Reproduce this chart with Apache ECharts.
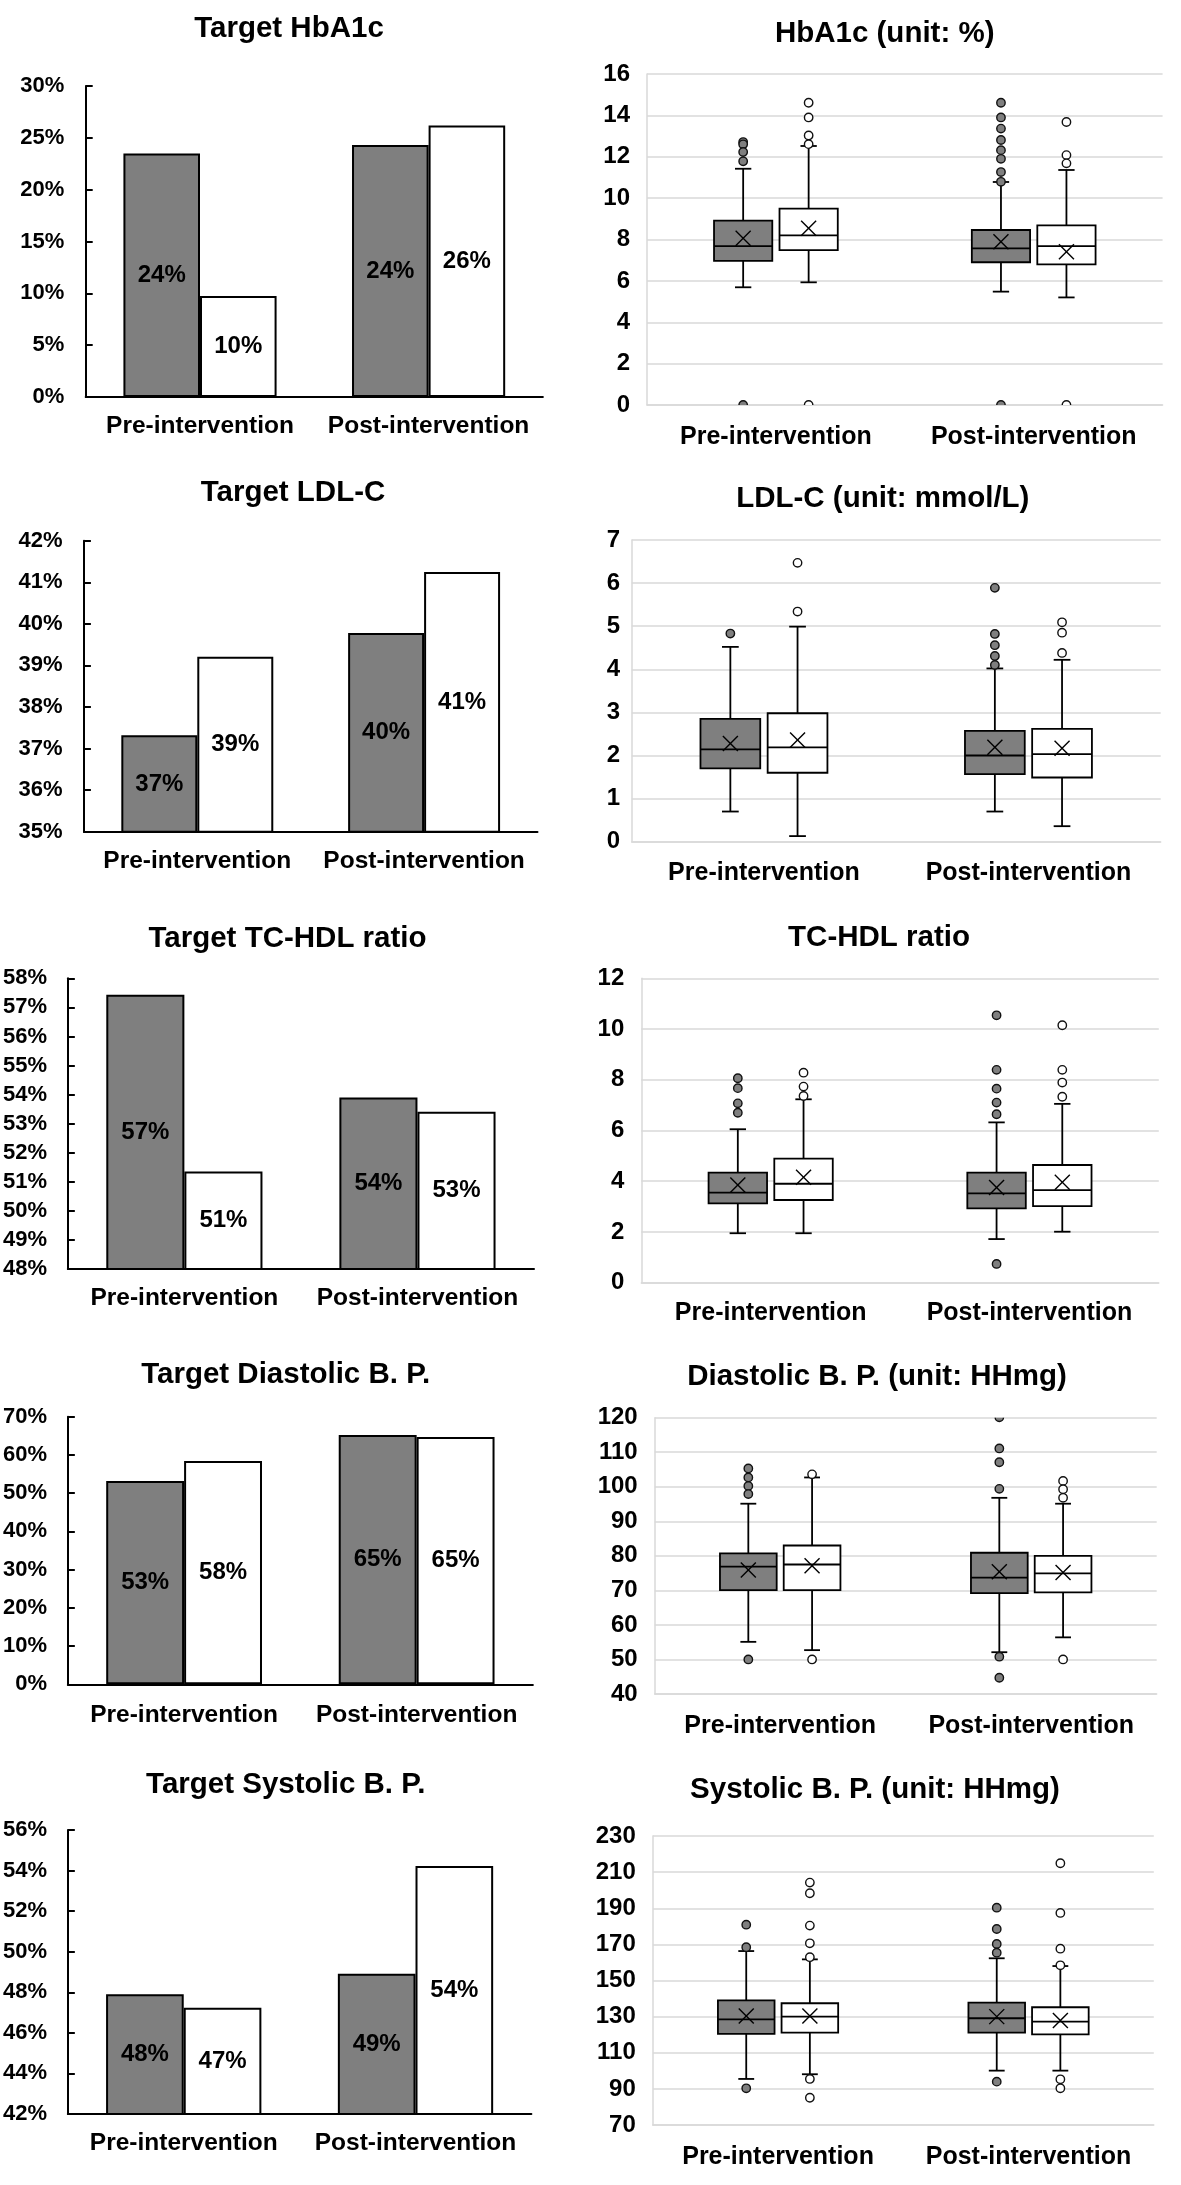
<!DOCTYPE html>
<html>
<head>
<meta charset="utf-8">
<script src="https://cdn.jsdelivr.net/npm/echarts@6/dist/echarts.min.js"></script>
<style>
  html, body { margin: 0; padding: 0; background: #fff; }
  #chart { width: 1181px; height: 2185px; }
</style>
</head>
<body>
<div id="chart"></div>
<script>
// ---------------- DATA ----------------
const categories = ['Pre-intervention', 'Post-intervention'];

// Target achievement bar charts (%): gray group, white group
const hba1cTargetGray = [23.5, 24.3];
const hba1cTargetWhite = [9.75, 26.2];
const ldlTargetGray = [37.32, 39.78];
const ldlTargetWhite = [39.21, 41.25];
const tchdlTargetGray = [57.43, 53.9];
const tchdlTargetWhite = [51.35, 53.41];
const diaTargetGray = [53.2, 65.2];
const diaTargetWhite = [58.4, 64.7];
const sysTargetGray = [47.9, 48.91];
const sysTargetWhite = [47.24, 54.22];

// Box plots: per category [min, Q1, median, Q3, max, mean]
const hba1cBoxGray = [[5.69, 6.97, 7.68, 8.91, 11.42, 8.06], [5.48, 6.90, 7.57, 8.46, 10.78, 7.89]];
const hba1cBoxWhite = [[5.93, 7.49, 8.20, 9.49, 12.52, 8.54], [5.20, 6.80, 7.68, 8.68, 11.36, 7.41]];
const hba1cOutGray = [[12.71, 12.6, 12.23, 11.78, 0], [14.61, 13.9, 13.36, 12.81, 12.32, 11.9, 11.26, 10.79, 0]];
const hba1cOutWhite = [[14.61, 13.9, 13.03, 12.61, 0], [13.68, 12.08, 11.68, 0]];

const ldlBoxGray = [[0.70, 1.70, 2.14, 2.85, 4.52, 2.28], [0.70, 1.57, 2.00, 2.57, 4.02, 2.19]];
const ldlBoxWhite = [[0.13, 1.60, 2.19, 2.98, 4.99, 2.36], [0.36, 1.49, 2.03, 2.62, 4.22, 2.17]];
const ldlOutGray = [[4.83], [5.89, 4.82, 4.56, 4.31, 4.10]];
const ldlOutWhite = [[6.47, 5.34], [5.09, 4.85, 4.38]];

const tchdlBoxGray = [[1.95, 3.13, 3.55, 4.34, 6.05, 3.85], [1.72, 2.93, 3.52, 4.34, 6.32, 3.75]];
const tchdlBoxWhite = [[1.95, 3.26, 3.90, 4.89, 7.23, 4.16], [2.01, 3.02, 3.65, 4.64, 7.05, 3.96]];
const tchdlOutGray = [[8.06, 7.67, 7.07, 6.70], [10.54, 8.39, 7.65, 7.10, 6.64, 0.74]];
const tchdlOutWhite = [[8.28, 7.73, 7.36], [10.15, 8.39, 7.89, 7.33]];

const diaBoxGray = [[55.1, 70.1, 76.9, 80.7, 95.1, 75.9], [52.1, 69.2, 73.7, 80.9, 96.8, 75.4]];
const diaBoxWhite = [[52.7, 70.1, 77.5, 83.0, 102.7, 77.1], [56.4, 69.4, 74.9, 80.0, 95.1, 75.2]];
const diaOutGray = [[105.3, 102.7, 100.2, 97.9, 50.0], [120.1, 111.1, 107.1, 99.4, 50.8, 44.7]];
const diaOutWhite = [[103.6, 50.0], [101.7, 99.3, 96.8, 50.0]];

const sysBoxGray = [[95.5, 120.4, 128.5, 139.0, 166.3, 130.4], [100.1, 121.1, 129.1, 137.7, 162.3, 130.0]];
const sysBoxWhite = [[98.1, 121.1, 130.0, 137.4, 161.7, 130.4], [100.1, 120.2, 127.2, 135.2, 158.0, 127.8]];
const sysOutGray = [[180.9, 168.4, 90.3], [190.3, 178.5, 170.2, 165.4, 94.0]];
const sysOutWhite = [[204.2, 198.3, 180.4, 170.6, 162.9, 95.5, 85.1], [214.9, 187.4, 167.6, 158.4, 95.3, 90.3]];

// Axis ranges [min, max, interval, labelStep]
const hba1cTargetAxis = [0, 30, 5];
const ldlTargetAxis = [35, 42, 1];
const tchdlTargetAxis = [48, 58, 1];
const diaTargetAxis = [0, 70, 10];
const sysTargetAxis = [42, 56, 2];
const hba1cBoxAxis = [0, 16, 2, 2];
const ldlBoxAxis = [0, 7, 1, 1];
const tchdlBoxAxis = [0, 12, 2, 2];
const diaBoxAxis = [40, 120, 10, 10];
const sysBoxAxis = [70, 230, 10, 20];

// ---------------- LAYOUT / STYLE ----------------
const FONT = "'Liberation Sans', Arial, sans-serif";
const GRAY = '#7f7f7f';
const GRID_GRAY = '#d9d9d9';

const barPanels = [
  { title: 'Target HbA1c', tx: 289, ty: 29, grid: [85.7, 86, 457.2, 311], gray: hba1cTargetGray, white: hba1cTargetWhite, axis: hba1cTargetAxis, ylm: 21.4, xlm: 17 },
  { title: 'Target LDL-C', tx: 293, ty: 493, grid: [83.9, 540.7, 453.6, 291], gray: ldlTargetGray, white: ldlTargetWhite, axis: ldlTargetAxis, ylm: 21.4, xlm: 17 },
  { title: 'Target TC-HDL ratio', tx: 287.5, ty: 939, grid: [65.4, 978.3, 468.6, 290.7], gray: tchdlTargetGray, white: tchdlTargetWhite, axis: tchdlTargetAxis, ylm: 20.8, xlm: 17 },
  { title: 'Target Diastolic B. P.', tx: 285.7, ty: 1375, grid: [65.4, 1416.7, 467.5, 267.6], gray: diaTargetGray, white: diaTargetWhite, axis: diaTargetAxis, ylm: 20.8, xlm: 18 },
  { title: 'Target Systolic B. P.', tx: 285.7, ty: 1785, grid: [65.4, 1830, 466, 284], gray: sysTargetGray, white: sysTargetWhite, axis: sysTargetAxis, ylm: 20.8, xlm: 17 }
];

const boxPanels = [
  { title: 'HbA1c (unit: %)', tx: 884.7, ty: 34, grid: [647, 74, 515.6, 331], gray: hba1cBoxGray, white: hba1cBoxWhite, og: hba1cOutGray, ow: hba1cOutWhite, axis: hba1cBoxAxis, ylm: 17, xlm: 20 },
  { title: 'LDL-C (unit: mmol/L)', tx: 882.8, ty: 499, grid: [631.7, 540, 529, 301.7], gray: ldlBoxGray, white: ldlBoxWhite, og: ldlOutGray, ow: ldlOutWhite, axis: ldlBoxAxis, ylm: 11.5, xlm: 19 },
  { title: 'TC-HDL ratio', tx: 879, ty: 937.5, grid: [641.3, 978.3, 517.5, 304.4], gray: tchdlBoxGray, white: tchdlBoxWhite, og: tchdlOutGray, ow: tchdlOutWhite, axis: tchdlBoxAxis, ylm: 17, xlm: 18 },
  { title: 'Diastolic B. P. (unit: HHmg)', tx: 877, ty: 1376.7, grid: [654.7, 1417.7, 502, 276.3], gray: diaBoxGray, white: diaBoxWhite, og: diaOutGray, ow: diaOutWhite, axis: diaBoxAxis, ylm: 17, xlm: 20 },
  { title: 'Systolic B. P. (unit: HHmg)', tx: 875, ty: 1790, grid: [652.8, 1836, 501, 289], gray: sysBoxGray, white: sysBoxWhite, og: sysOutGray, ow: sysOutWhite, axis: sysBoxAxis, ylm: 17, xlm: 20 }
];

const BOX_OFFSET = 0.127;
const BOX_WIDTH = 0.226;

function makeBoxRender(side, fill) {
  return function (params, api) {
    const cat = api.value(0);
    const band = api.size([1, 0])[0];
    const cx = api.coord([cat, api.value(3)])[0] + side * band * BOX_OFFSET;
    const w = band * BOX_WIDTH;
    const yv = (i) => api.coord([cat, api.value(i)])[1];
    const yMin = yv(1), yQ1 = yv(2), yMed = yv(3), yQ3 = yv(4), yMax = yv(5), yMean = yv(6);
    const capW = w * 0.28;
    const xs = 7.5;
    const ls = { stroke: '#000', lineWidth: 1.8 };
    return {
      type: 'group',
      children: [
        { type: 'line', shape: { x1: cx, y1: yQ3, x2: cx, y2: yMax }, style: ls },
        { type: 'line', shape: { x1: cx, y1: yQ1, x2: cx, y2: yMin }, style: ls },
        { type: 'line', shape: { x1: cx - capW / 2, y1: yMax, x2: cx + capW / 2, y2: yMax }, style: ls },
        { type: 'line', shape: { x1: cx - capW / 2, y1: yMin, x2: cx + capW / 2, y2: yMin }, style: ls },
        { type: 'rect', shape: { x: cx - w / 2, y: yQ3, width: w, height: yQ1 - yQ3 }, style: { fill: fill, stroke: '#000', lineWidth: 1.8 } },
        { type: 'line', shape: { x1: cx - w / 2, y1: yMed, x2: cx + w / 2, y2: yMed }, style: ls },
        { type: 'line', shape: { x1: cx - xs, y1: yMean - xs, x2: cx + xs, y2: yMean + xs }, style: { stroke: '#000', lineWidth: 1.4 } },
        { type: 'line', shape: { x1: cx - xs, y1: yMean + xs, x2: cx + xs, y2: yMean - xs }, style: { stroke: '#000', lineWidth: 1.4 } }
      ]
    };
  };
}

function makeOutRender(side, fill) {
  return function (params, api) {
    const cat = api.value(0);
    const band = api.size([1, 0])[0];
    const p = api.coord([cat, api.value(1)]);
    return {
      type: 'circle',
      shape: { cx: p[0] + side * band * BOX_OFFSET, cy: p[1], r: 4.2 },
      style: { fill: fill, stroke: '#111', lineWidth: 1.4 }
    };
  };
}

const option = {
  animation: false,
  backgroundColor: '#fff',
  textStyle: { fontFamily: FONT },
  title: [], grid: [], xAxis: [], yAxis: [], series: []
};

function addTitle(text, x, y, size) {
  option.title.push({
    text: text, left: x, top: y, textAlign: 'center', textVerticalAlign: 'middle', padding: 0,
    textStyle: { fontSize: size, fontWeight: 'bold', color: '#000', fontFamily: FONT }
  });
}

let gi = 0;
barPanels.forEach(function (p) {
  addTitle(p.title, p.tx, p.ty, 29.5);
  option.grid.push({ left: p.grid[0], top: p.grid[1], width: p.grid[2], height: p.grid[3], containLabel: false });
  option.xAxis.push({
    type: 'category', gridIndex: gi, data: categories,
    axisLine: { show: true, lineStyle: { color: '#000', width: 2 } },
    axisTick: { show: false },
    axisLabel: { interval: 0, margin: p.xlm, fontSize: 24.5, fontWeight: 'bold', color: '#000', fontFamily: FONT }
  });
  option.yAxis.push({
    type: 'value', gridIndex: gi, min: p.axis[0], max: p.axis[1], interval: p.axis[2],
    splitLine: { show: false },
    axisLine: { show: true, lineStyle: { color: '#000', width: 2 } },
    axisTick: { show: true, inside: true, length: 7, lineStyle: { color: '#000', width: 2 } },
    axisLabel: { formatter: '{value}%', margin: p.ylm, fontSize: 22, fontWeight: 'bold', color: '#000', fontFamily: FONT }
  });
  [[p.gray, GRAY], [p.white, '#ffffff']].forEach(function (s) {
    option.series.push({
      type: 'bar', xAxisIndex: gi, yAxisIndex: gi, data: s[0],
      barGap: '0%', barCategoryGap: '33%',
      itemStyle: { color: s[1], borderColor: '#000', borderWidth: 2 },
      label: {
        show: true, position: 'inside', color: '#000', fontSize: 24, fontWeight: 'bold', fontFamily: FONT,
        textBorderWidth: 0,
        formatter: function (d) { return Math.round(d.value) + '%'; }
      }
    });
  });
  gi++;
});

boxPanels.forEach(function (p) {
  addTitle(p.title, p.tx, p.ty, 29.5);
  option.grid.push({ left: p.grid[0], top: p.grid[1], width: p.grid[2], height: p.grid[3], containLabel: false });
  option.xAxis.push({
    type: 'category', gridIndex: gi, data: categories,
    axisLine: { show: true, lineStyle: { color: GRID_GRAY, width: 1.5 } },
    axisTick: { show: false },
    axisLabel: { interval: 0, margin: p.xlm, fontSize: 25, fontWeight: 'bold', color: '#000', fontFamily: FONT }
  });
  const amin = p.axis[0], step = p.axis[3], intv = p.axis[2];
  const nLines = Math.round((p.axis[1] - amin) / intv) + 1;
  const lineColors = [];
  for (let k = 0; k < nLines; k++) {
    lineColors.push(((k * intv) % step === 0) ? GRID_GRAY : 'rgba(0,0,0,0)');
  }
  option.yAxis.push({
    type: 'value', gridIndex: gi, min: amin, max: p.axis[1], interval: intv,
    splitLine: { show: true, lineStyle: { color: lineColors, width: 1.5 } },
    axisLine: { show: true, lineStyle: { color: GRID_GRAY, width: 1.5 } },
    axisTick: { show: false },
    axisLabel: {
      margin: p.ylm, fontSize: 24, fontWeight: 'bold', color: '#000', fontFamily: FONT,
      formatter: function (v) { return ((v - amin) % step === 0) ? String(v) : ''; }
    }
  });
  [[p.gray, p.og, -1, GRAY], [p.white, p.ow, 1, '#ffffff']].forEach(function (s) {
    option.series.push({
      type: 'custom', xAxisIndex: gi, yAxisIndex: gi, z: 3,
      renderItem: makeBoxRender(s[2], s[3]),
      encode: { x: 0, y: [1, 2, 3, 4, 5, 6] },
      data: s[0].map(function (st, ci) { return [ci].concat(st); })
    });
    const outs = [];
    s[1].forEach(function (arr, ci) { arr.forEach(function (v) { outs.push([ci, v]); }); });
    option.series.push({
      type: 'custom', xAxisIndex: gi, yAxisIndex: gi, z: 4, clip: true,
      renderItem: makeOutRender(s[2], s[3]),
      encode: { x: 0, y: 1 },
      data: outs
    });
  });
  gi++;
});

const chart = echarts.init(document.getElementById('chart'), null, { renderer: 'canvas' });
chart.setOption(option);
</script>
</body>
</html>
